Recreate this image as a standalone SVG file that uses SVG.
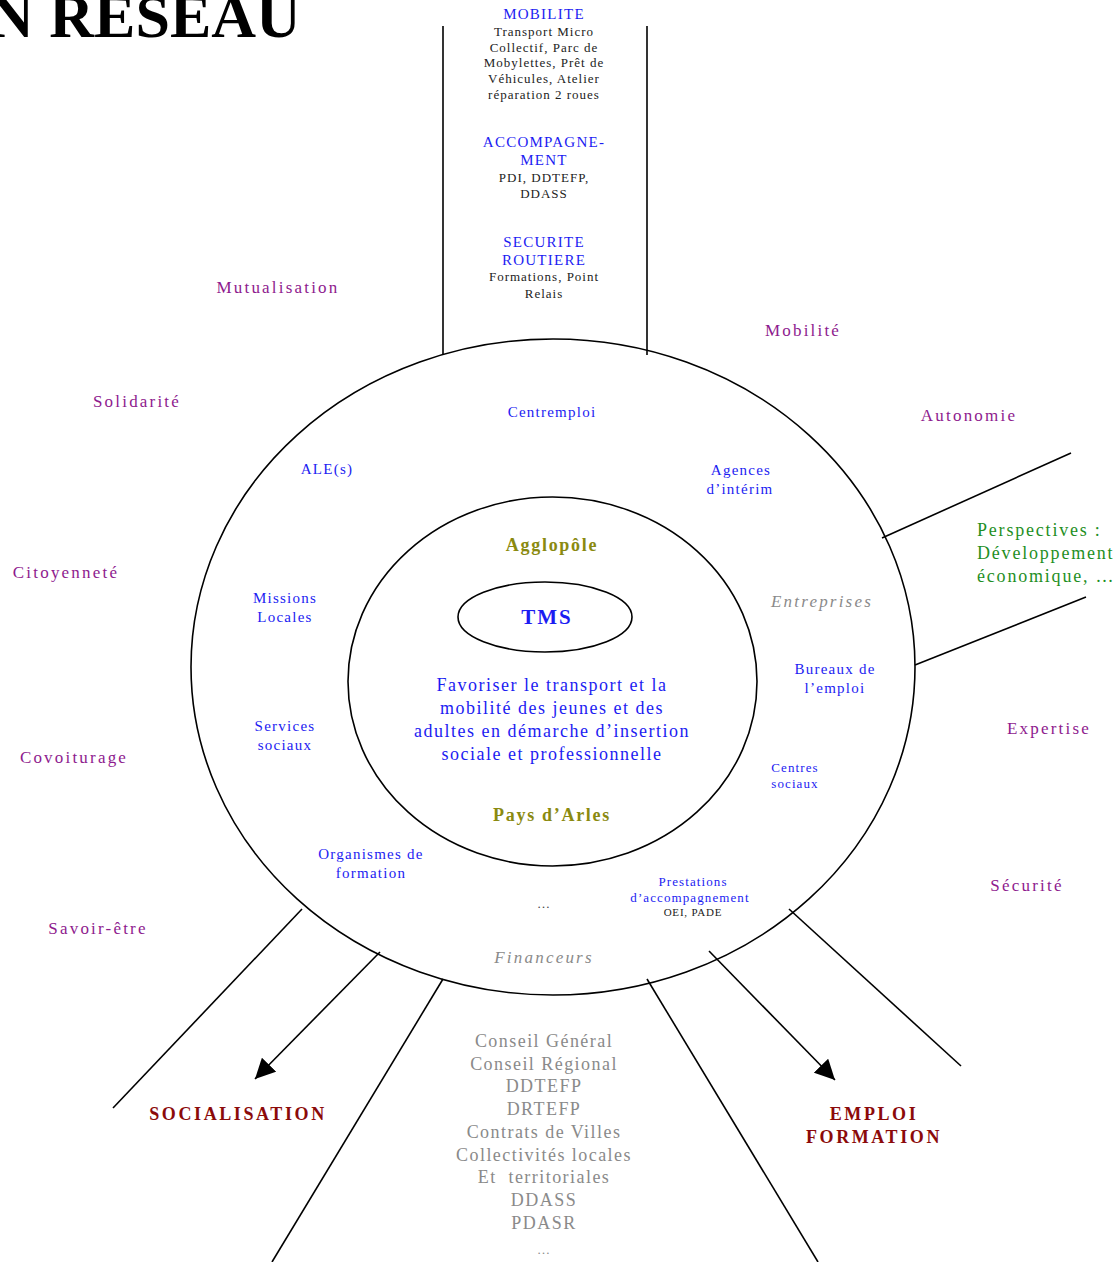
<svg xmlns="http://www.w3.org/2000/svg" width="1119" height="1262" viewBox="0 0 1119 1262">
<defs>
<marker id="arr" viewBox="0 0 10 10" refX="10" refY="5" markerWidth="20" markerHeight="20" markerUnits="userSpaceOnUse" orient="auto">
<path d="M0,0 L10,5 L0,10 z" fill="#000"/>
</marker>
<style>
text{font-family:"Liberation Serif","Times New Roman",serif;text-anchor:middle}
.ln{stroke:#000;stroke-width:1.6;fill:none}
.pu{fill:#8e1a8e;font-size:17px;letter-spacing:2.2px}
.bl{fill:#1c1cf2;font-size:15px;letter-spacing:1.25px}
.bs{fill:#1c1cf2;font-size:13px;letter-spacing:1.1px}
.bk{fill:#222;font-size:13px;letter-spacing:1px}
.gi{fill:#8a8a8a;font-size:17px;font-style:italic;letter-spacing:2.2px}
.gr{fill:#8a8a8a;font-size:18px;letter-spacing:1.45px}
.ol{fill:#8a8a10;font-size:18px;font-weight:bold;letter-spacing:1.7px}
.red{fill:#8b0a0a;font-size:18px;font-weight:bold;letter-spacing:2.6px}
.gn{fill:#1f8f1f;font-size:18px;letter-spacing:1.8px;text-anchor:start}
.fv{fill:#1c1cf2;font-size:18px;letter-spacing:1.5px}
</style>
</defs>
<rect width="1119" height="1262" fill="#fff"/>
<text x="-11" y="37" style="font-size:62px;font-weight:bold;text-anchor:start;fill:#000">N RESEAU</text>

<g id="connectors">
<line class="ln" x1="443" y1="26" x2="443" y2="355"/>
<line class="ln" x1="647" y1="26" x2="647" y2="355"/>
<line class="ln" x1="882" y1="538" x2="1071" y2="453"/>
<line class="ln" x1="915" y1="665" x2="1086" y2="597"/>
<line class="ln" x1="302" y1="909" x2="113" y2="1108"/>
<line class="ln" x1="380" y1="952" x2="255" y2="1079" marker-end="url(#arr)"/>
<line class="ln" x1="443" y1="979" x2="272" y2="1262"/>
<line class="ln" x1="647" y1="979" x2="818" y2="1262"/>
<line class="ln" x1="709" y1="951" x2="835" y2="1080" marker-end="url(#arr)"/>
<line class="ln" x1="789" y1="909" x2="961" y2="1066"/>
</g>

<g id="outer-ring">
<ellipse cx="553" cy="667" rx="362" ry="328" class="ln"/>
</g>
<g id="inner-ring">
<ellipse cx="552.5" cy="681.5" rx="204.5" ry="184.5" class="ln"/>
</g>
<g id="tms">
<ellipse cx="545" cy="617" rx="87" ry="35" class="ln"/>
<text x="547" y="624" style="fill:#1c1cf2;font-size:21px;font-weight:bold;letter-spacing:2px">TMS</text>
</g>

<g id="column">
<text class="bl" x="544" y="19">MOBILITE</text>
<text class="bk" x="544" y="36">Transport Micro</text>
<text class="bk" x="544" y="52">Collectif, Parc de</text>
<text class="bk" x="544" y="67">Mobylettes, Prêt de</text>
<text class="bk" x="544" y="83">Véhicules, Atelier</text>
<text class="bk" x="544" y="99">réparation 2 roues</text>
<text class="bl" x="544" y="147">ACCOMPAGNE-</text>
<text class="bl" x="544" y="165">MENT</text>
<text class="bk" x="544" y="182">PDI, DDTEFP,</text>
<text class="bk" x="544" y="198">DDASS</text>
<text class="bl" x="544" y="247">SECURITE</text>
<text class="bl" x="544" y="265">ROUTIERE</text>
<text class="bk" x="544" y="281">Formations, Point</text>
<text class="bk" x="544" y="298">Relais</text>
</g>

<g id="values">
<text class="pu" x="278" y="293">Mutualisation</text>
<text class="pu" x="137" y="407">Solidarité</text>
<text class="pu" x="66" y="578">Citoyenneté</text>
<text class="pu" x="74" y="763">Covoiturage</text>
<text class="pu" x="98" y="934">Savoir-être</text>
<text class="pu" x="803" y="336">Mobilité</text>
<text class="pu" x="969" y="421">Autonomie</text>
<text class="pu" x="1049" y="734">Expertise</text>
<text class="pu" x="1027" y="891">Sécurité</text>
</g>

<g id="perspectives">
<text class="gn" x="977" y="536">Perspectives :</text>
<text class="gn" x="977" y="559">Développement</text>
<text class="gn" x="977" y="582">économique, …</text>
</g>

<g id="partners">
<text class="bl" x="552" y="417">Centremploi</text>
<text class="bl" x="327" y="474">ALE(s)</text>
<text class="bl" x="741" y="475">Agences</text>
<text class="bl" x="740" y="494">d’intérim</text>
<text class="bl" x="285" y="603">Missions</text>
<text class="bl" x="285" y="622">Locales</text>
<text class="gi" x="822" y="607">Entreprises</text>
<text class="bl" x="835" y="674">Bureaux de</text>
<text class="bl" x="835" y="693">l’emploi</text>
<text class="bl" x="285" y="731">Services</text>
<text class="bl" x="285" y="750">sociaux</text>
<text class="bs" x="795" y="772">Centres</text>
<text class="bs" x="795" y="788">sociaux</text>
<text class="bl" x="371" y="859">Organismes de</text>
<text class="bl" x="371" y="878">formation</text>
<text class="bs" x="693" y="886">Prestations</text>
<text class="bs" x="690" y="902">d’accompagnement</text>
<text x="693" y="916" style="fill:#222;font-size:11px;letter-spacing:0.8px">OEI, PADE</text>
<text x="544" y="908" style="fill:#444;font-size:13px;letter-spacing:1px">…</text>
<text class="gi" x="544" y="963">Financeurs</text>
</g>

<g id="center">
<text class="ol" x="552" y="551">Agglopôle</text>
<text class="fv" x="552" y="691">Favoriser le transport et la</text>
<text class="fv" x="552" y="714">mobilité des jeunes et des</text>
<text class="fv" x="552" y="737">adultes en démarche d’insertion</text>
<text class="fv" x="552" y="760">sociale et professionnelle</text>
<text class="ol" x="552" y="821">Pays d’Arles</text>
</g>

<g id="funders">
<text class="gr" x="544" y="1047">Conseil Général</text>
<text class="gr" x="544" y="1070">Conseil Régional</text>
<text class="gr" x="544" y="1092">DDTEFP</text>
<text class="gr" x="544" y="1115">DRTEFP</text>
<text class="gr" x="544" y="1138">Contrats de Villes</text>
<text class="gr" x="544" y="1161">Collectivités locales</text>
<text class="gr" x="544" y="1183" xml:space="preserve">Et  territoriales</text>
<text class="gr" x="544" y="1206">DDASS</text>
<text class="gr" x="544" y="1229">PDASR</text>
<text x="544" y="1254" style="fill:#8a8a8a;font-size:13px;letter-spacing:1px">…</text>
</g>

<g id="socialisation">
<text class="red" x="238" y="1120">SOCIALISATION</text>
</g>
<g id="emploi-formation">
<text class="red" x="874" y="1120">EMPLOI</text>
<text class="red" x="874" y="1143">FORMATION</text>
</g>
</svg>
